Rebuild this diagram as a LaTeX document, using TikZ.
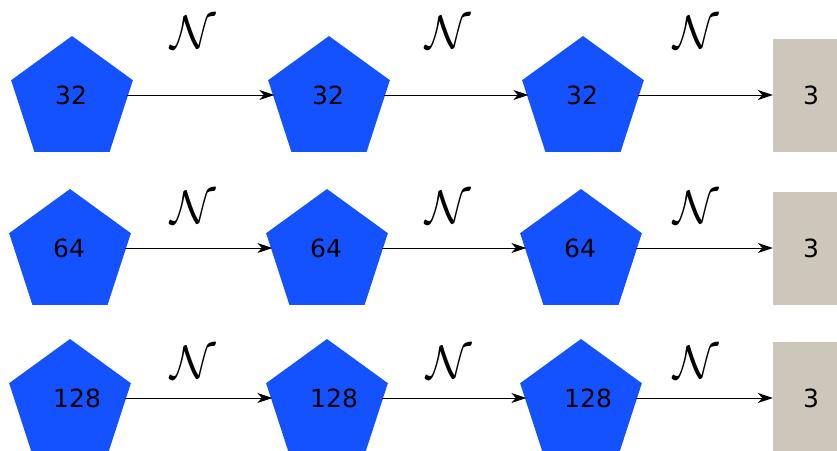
\RequirePackage{fix-cm}
\documentclass[tikz,border=0pt]{standalone}
\usepackage{fontspec}
\setsansfont{DejaVu Sans}
\usetikzlibrary{arrows.meta, shapes.geometric}
\definecolor{layerblue}{RGB}{20,82,255}
\definecolor{outgray}{RGB}{204,198,187}

\begin{document}
\begin{tikzpicture}[x=1pt, y=-1pt,
  penta/.style={regular polygon, regular polygon sides=5,
                minimum size=128pt, inner sep=0pt, fill=layerblue},
  chan/.style={anchor=west, inner sep=0pt,
               font=\sffamily\fontsize{25}{30}\selectfont},
  outbox/.style={rectangle, fill=outgray, inner sep=0pt,
                 minimum width=76pt, minimum height=113pt,
                 font=\sffamily\fontsize{25}{30}\selectfont},
  opname/.style={inner sep=0pt, font=\fontsize{47}{50}\selectfont},
  flow/.style={-{Stealth[length=15pt, width=10pt, inset=4.5pt]}, line width=1pt}]

  \clip (0,0) rectangle (837,450);

  % Row 1: 32 channels
  \node[penta] (p11) at (72,100) {};
  \node[penta] (p12) at (329,100) {};
  \node[penta] (p13) at (583,100) {};
  \node[chan] (t11) at ([xshift=-17pt, yshift=5pt]p11.center) {32};
  \node[chan] (t12) at ([xshift=-17pt, yshift=5pt]p12.center) {32};
  \node[chan] (t13) at ([xshift=-17pt, yshift=5pt]p13.center) {32};
  \node[outbox] (q1) at (811,95) {3};
  \draw[flow] ([yshift=5pt]p11.east) -- ([yshift=5pt]p12.west);
  \draw[flow] ([yshift=5pt]p12.east) -- ([yshift=5pt]p13.west);
  \draw[flow] ([yshift=5pt]p13.east) -- (q1.west);
  \node[opname] (n11) at (193,32) {$\mathcal{N}$};
  \node[opname] (n12) at (448,32) {$\mathcal{N}$};
  \node[opname] (n13) at (696,32) {$\mathcal{N}$};

  % Row 2: 64 channels
  \node[penta] (p21) at (70,253) {};
  \node[penta] (p22) at (327,253) {};
  \node[penta] (p23) at (581,253) {};
  \node[chan] (t21) at ([xshift=-17pt, yshift=5pt]p21.center) {64};
  \node[chan] (t22) at ([xshift=-17pt, yshift=5pt]p22.center) {64};
  \node[chan] (t23) at ([xshift=-17pt, yshift=5pt]p23.center) {64};
  \node[outbox] (q2) at (811,248) {3};
  \draw[flow] ([yshift=5pt]p21.east) -- ([yshift=5pt]p22.west);
  \draw[flow] ([yshift=5pt]p22.east) -- ([yshift=5pt]p23.west);
  \draw[flow] ([yshift=5pt]p23.east) -- (q2.west);
  \node[opname] (n21) at (193,207) {$\mathcal{N}$};
  \node[opname] (n22) at (448,207) {$\mathcal{N}$};
  \node[opname] (n23) at (696,207) {$\mathcal{N}$};

  % Row 3: 128 channels
  \node[penta] (p31) at (70,403) {};
  \node[penta] (p32) at (327,403) {};
  \node[penta] (p33) at (581,403) {};
  \node[chan] (t31) at ([xshift=-17pt, yshift=5pt]p31.center) {128};
  \node[chan] (t32) at ([xshift=-17pt, yshift=5pt]p32.center) {128};
  \node[chan] (t33) at ([xshift=-17pt, yshift=5pt]p33.center) {128};
  \node[outbox] (q3) at (811,398) {3};
  \draw[flow] ([yshift=5pt]p31.east) -- ([yshift=5pt]p32.west);
  \draw[flow] ([yshift=5pt]p32.east) -- ([yshift=5pt]p33.west);
  \draw[flow] ([yshift=5pt]p33.east) -- (q3.west);
  \node[opname] (n31) at (193,362) {$\mathcal{N}$};
  \node[opname] (n32) at (449,362) {$\mathcal{N}$};
  \node[opname] (n33) at (696,362) {$\mathcal{N}$};
\end{tikzpicture}
\end{document}
